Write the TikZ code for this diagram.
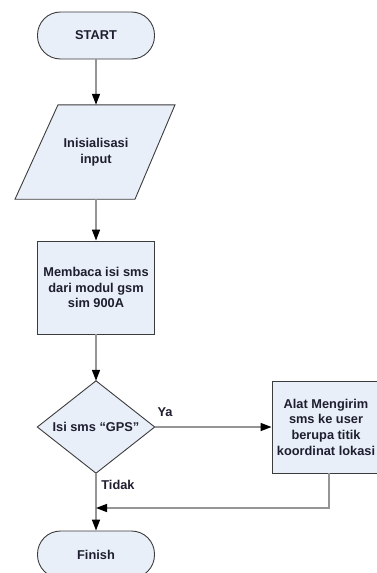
\documentclass[tikz,border=0pt]{standalone}
\usepackage{fontspec}
\setmainfont{Liberation Sans}
\usetikzlibrary{arrows.meta}
\definecolor{boxfill}{HTML}{E9EFF8}
\definecolor{boxline}{HTML}{3C3C3C}
\definecolor{conn}{HTML}{959595}
\definecolor{txtc}{HTML}{1E1E30}
\tikzset{
  lbl/.style={font=\fontsize{12.8}{15.7}\selectfont\bfseries, text=txtc, align=center, inner sep=0pt},
  term/.style={lbl, draw=boxline, fill=boxfill, line width=0.9pt, rounded corners=23pt, minimum width=117pt, minimum height=47pt},
  procbox/.style={lbl, draw=boxline, fill=boxfill, line width=0.9pt, minimum width=117pt, minimum height=93pt},
  holder/.style={lbl},
  shapeline/.style={draw=boxline, fill=boxfill, line width=0.9pt},
  conn/.style={draw=conn, line width=1.5pt, -{Triangle[width=8pt,length=11pt,color=black]}}
}
\begin{document}
\begin{tikzpicture}[x=1pt,y=-1pt]
\useasboundingbox (0,0) rectangle (376,573);
\node[term] (start) at (96,35.5) {START};
% input parallelogram
\node[holder, minimum width=117pt, minimum height=94pt] (inp) at (96,152) {};
\path[shapeline] ([xshift=-38pt]inp.north) -- ([xshift=79pt]inp.north) -- ([xshift=39pt]inp.south) -- ([xshift=-81pt]inp.south) -- cycle;
\node[lbl] (inptext) at (inp.center) {Inisialisasi\\input};
\node[procbox] (read) at (96,287.5) {Membaca isi sms\\dari modul gsm\\sim 900A};
% decision diamond
\node[holder, minimum width=117pt, minimum height=92pt] (dec) at (96,427) {};
\path[shapeline] (dec.north) -- (dec.east) -- (dec.south) -- (dec.west) -- cycle;
\node[lbl] (dectext) at (dec.center) {Isi sms “GPS”};
\node[procbox, minimum width=115pt, minimum height=92pt] (send) at (329.5,427) {};
\node[lbl] (sendtext) at ([xshift=-3.5pt]send.center) {Alat Mengirim\\sms ke user\\berupa titik\\koordinat lokasi};
\node[term] (fin) at (96,554.5) {Finish};
\coordinate (join) at (96,508);
\coordinate (sendturn) at (329,508);
\draw[conn] (start.south) -- (inp.north);
\draw[conn] (inp.south) -- (read.north);
\draw[conn] (read.south) -- (dec.north);
\draw[conn] (dec.east) -- (send.west);
\draw[conn] (dec.south) -- (fin.north);
\draw[conn] (send.south -| sendturn) -- (sendturn) -- (join);
\node[lbl] (ya) at (165,412) {Ya};
\node[lbl] (tidak) at (118,485) {Tidak};
\end{tikzpicture}
\end{document}
